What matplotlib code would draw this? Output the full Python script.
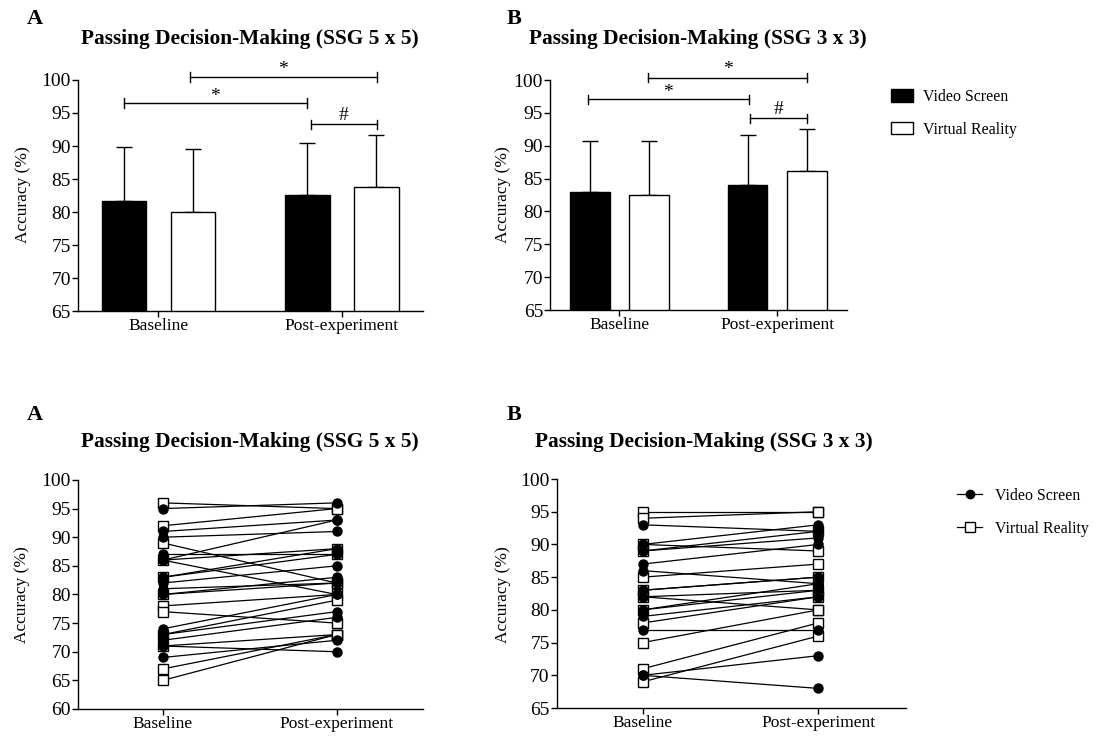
import matplotlib
matplotlib.use("Agg")
import matplotlib.pyplot as plt
from matplotlib.patches import Patch
from matplotlib.lines import Line2D
import numpy as np

plt.rcParams["font.family"] = ["Liberation Serif", "DejaVu Serif"]

# =========================
# Data
# =========================
categories = ["Baseline", "Post-experiment"]
groups = ["Video Screen", "Virtual Reality"]

# top panels: mean and SD
vs_mean_5x5 = [81.6, 82.6]
vs_sd_5x5 = [8.3, 7.9]
vr_mean_5x5 = [80.0, 83.8]
vr_sd_5x5 = [9.5, 7.8]

vs_mean_3x3 = [83.0, 84.1]
vs_sd_3x3 = [7.7, 7.6]
vr_mean_3x3 = [82.5, 86.1]
vr_sd_3x3 = [8.2, 6.4]

# bottom panels: individual players (baseline, post)
vs_pre_5x5 = [95, 91, 90, 87, 86, 86, 83, 82, 81, 80, 74, 73, 72, 71, 69]
vs_post_5x5 = [96, 93, 91, 87, 93, 80, 88, 85, 82, 83, 80, 77, 76, 70, 72]
vr_pre_5x5 = [96, 92, 89, 86, 83, 80, 78, 77, 73, 71, 67, 65]
vr_post_5x5 = [95, 95, 82, 88, 87, 82, 80, 75, 79, 73, 73, 73]

vs_pre_3x3 = [93, 90, 89, 87, 86, 83, 82, 80, 79, 77, 70, 70]
vs_post_3x3 = [92, 93, 91, 90, 84, 85, 83, 84, 82, 77, 73, 68]
vr_pre_3x3 = [95, 94, 90, 89, 85, 83, 82, 80, 78, 75, 71, 69]
vr_post_3x3 = [95, 95, 89, 92, 87, 85, 80, 83, 82, 80, 78, 76]

FS = 12.5
W, H = 1110, 740


def px(x, y):
    return x / W, 1 - y / H


def style_axes(ax):
    ax.spines["top"].set_visible(False)
    ax.spines["right"].set_visible(False)
    for s in ("left", "bottom"):
        ax.spines[s].set_linewidth(1.0)
    ax.tick_params(direction="out", length=4, width=1.0, pad=1)
    ax.tick_params(axis="x", labelsize=FS)
    ax.tick_params(axis="y", labelsize=14)


def bracket(ax, x1, x2, y, text, dy, cap=0.7):
    kw = dict(color="black", lw=1.0, clip_on=False)
    ax.plot([x1, x2], [y, y], **kw)
    ax.plot([x1, x1], [y - cap, y + cap], **kw)
    ax.plot([x2, x2], [y - cap, y + cap], **kw)
    ax.text((x1 + x2) / 2, y + dy, text, ha="center", va="center",
            fontsize=14, clip_on=False)


def bar_panel(ax, vs_mean, vs_sd, vr_mean, vr_sd, width, brackets):
    x = np.arange(len(categories))
    off = 0.188
    ax.bar(x - off, vs_mean, width, color="black",
           edgecolor="black", linewidth=1.0, zorder=2)
    ax.bar(x + off, vr_mean, width, color="white",
           edgecolor="black", linewidth=1.0, zorder=2)
    ax.errorbar(x - off, vs_mean, yerr=[np.zeros(2), vs_sd], fmt="none",
                ecolor="black", elinewidth=1.0, capsize=5.5, capthick=1.0,
                zorder=1)
    ax.errorbar(x + off, vr_mean, yerr=[np.zeros(2), vr_sd], fmt="none",
                ecolor="black", elinewidth=1.0, capsize=5.5, capthick=1.0,
                zorder=1)
    ax.set_ylim(65, 100)
    ax.set_yticks(np.arange(65, 101, 5))
    ax.set_xlim(-0.44, 1.44)
    ax.set_xticks(x)
    ax.set_xticklabels(categories)
    style_axes(ax)
    for b in brackets:
        bracket(ax, *b)


def line_panel(ax, vs_pre, vs_post, vr_pre, vr_post, ylim):
    x = [0, 1]
    for a, b in zip(vr_pre, vr_post):
        ax.plot(x, [a, b], color="black", lw=0.9, marker="s", ms=7,
                mfc="white", mec="black", mew=1.0, clip_on=False)
    for a, b in zip(vs_pre, vs_post):
        ax.plot(x, [a, b], color="black", lw=0.9, marker="o", ms=6.5,
                mfc="black", mec="black", clip_on=False)
    ax.set_ylim(*ylim)
    ax.set_yticks(np.arange(ylim[0], ylim[1] + 1, 5))
    ax.set_xlim(-0.49, 1.5)
    ax.set_xticks(x)
    ax.set_xticklabels(categories)
    style_axes(ax)


fig = plt.figure(figsize=(11.1, 7.4), dpi=100)

# =========================
# Top panels (bars)
# =========================
ax1 = fig.add_axes([0.070, 0.5797, 0.3108, 0.3122])
bar_panel(ax1, vs_mean_5x5, vs_sd_5x5, vr_mean_5x5, vr_sd_5x5, 0.244,
          [(-0.19, 0.81, 96.5, "*", 1.0),
           (0.17, 1.19, 100.45, "*", 1.2),
           (0.83, 1.19, 93.3, "#", 1.3)])

ax2 = fig.add_axes([0.4955, 0.581, 0.2673, 0.3108])
bar_panel(ax2, vs_mean_3x3, vs_sd_3x3, vr_mean_3x3, vr_sd_3x3, 0.25,
          [(-0.20, 0.82, 97.1, "*", 1.0),
           (0.18, 1.19, 100.35, "*", 1.2),
           (0.83, 1.19, 94.2, "#", 1.3)])

# =========================
# Bottom panels (individual lines)
# =========================
ax3 = fig.add_axes([0.070, 0.0419, 0.3114, 0.3095])
line_panel(ax3, vs_pre_5x5, vs_post_5x5, vr_pre_5x5, vr_post_5x5, (60, 100))

ax4 = fig.add_axes([0.5015, 0.0432, 0.3147, 0.3095])
line_panel(ax4, vs_pre_3x3, vs_post_3x3, vr_pre_3x3, vr_post_3x3, (65, 100))

# =========================
# Texts
# =========================
for (lx, ly), letter in [((35, 19), "A"), ((514, 19), "B"),
                         ((35, 415), "A"), ((514, 415), "B")]:
    fig.text(*px(lx, ly), letter, fontsize=16, fontweight="bold",
             ha="center", va="center")

for (tx, ty), t in [((250, 39), "Passing Decision-Making (SSG 5 x 5)"),
                    ((698, 39), "Passing Decision-Making (SSG 3 x 3)"),
                    ((250, 442), "Passing Decision-Making (SSG 5 x 5)"),
                    ((704, 442), "Passing Decision-Making (SSG 3 x 3)")]:
    fig.text(*px(tx, ty), t, fontsize=15.4, fontweight="bold",
             ha="center", va="center")

for (yx, yy) in [(23, 195), (503, 195), (22, 595), (503, 595)]:
    fig.text(*px(yx, yy), "Accuracy (%)", fontsize=FS, rotation=90,
             ha="center", va="center")

# =========================
# Legends
# =========================
bar_handles = [Patch(facecolor="black", edgecolor="black", lw=1.0),
               Patch(facecolor="white", edgecolor="black", lw=1.0)]
fig.legend(bar_handles, groups, loc="upper left",
           bbox_to_anchor=px(891, 89), frameon=False, fontsize=11.4,
           borderpad=0, borderaxespad=0, handlelength=1.4, handleheight=0.85,
           handletextpad=0.65, labelspacing=1.05)

line_handles = [Line2D([0], [0], color="black", lw=0.9, marker="o", ms=6,
                       mfc="black", mec="black"),
                Line2D([0], [0], color="black", lw=0.9, marker="s", ms=6.5,
                       mfc="white", mec="black")]
fig.legend(line_handles, groups, loc="upper left",
           bbox_to_anchor=px(957, 488), frameon=False, fontsize=11.4,
           borderpad=0, borderaxespad=0, handlelength=1.6,
           handletextpad=0.8, labelspacing=1.05)

fig.savefig("out.png", dpi=100)
